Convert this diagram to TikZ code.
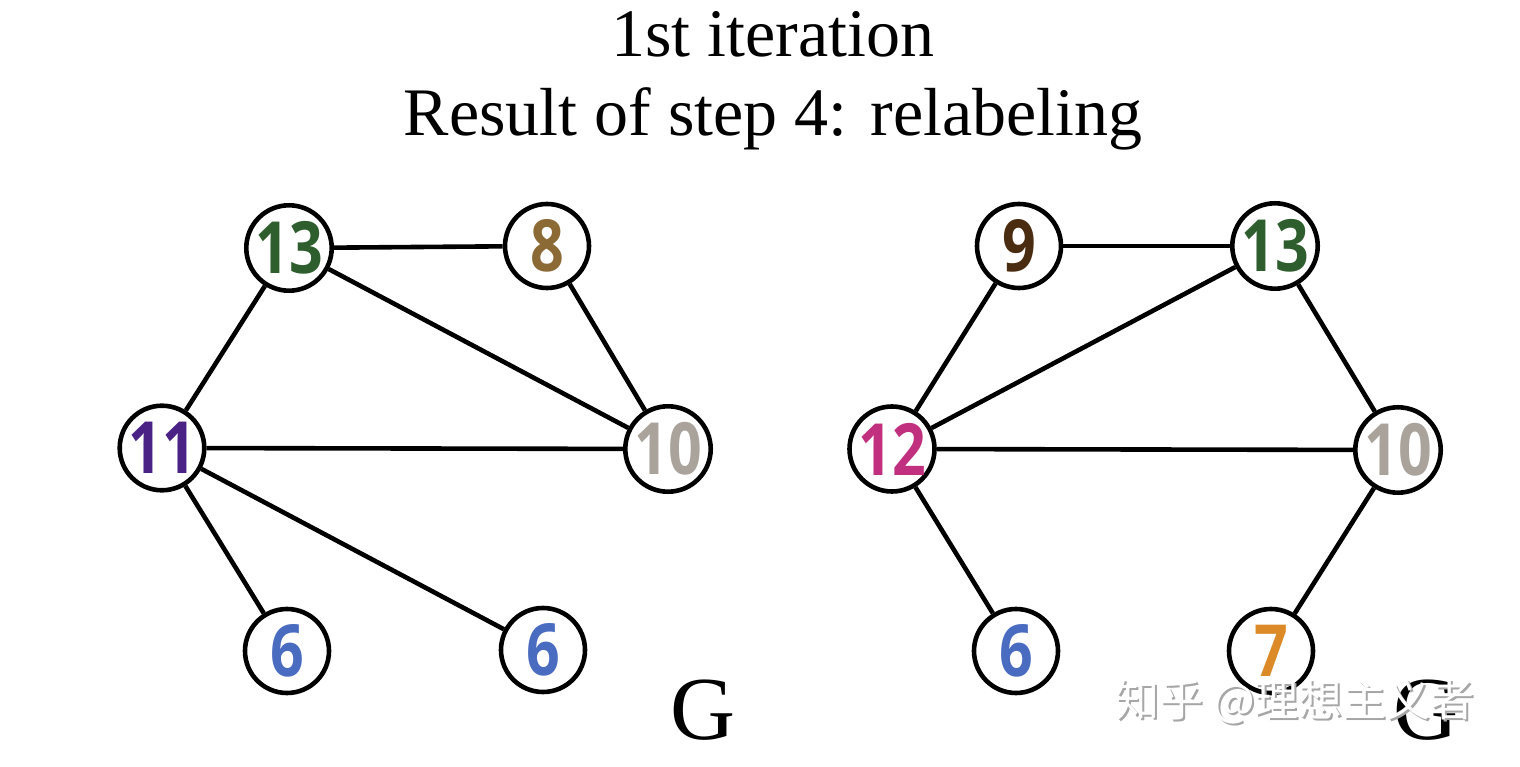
\documentclass[tikz,border=0pt]{standalone}
\usepackage{fontspec}
\setmainfont{Liberation Serif}
\newfontfamily\numfont[FakeStretch=0.82]{Open Sans}
\newfontfamily\cjkfont{Noto Sans CJK SC}
\definecolor{cgreen}{HTML}{2F5E2E}
\definecolor{cbrown}{HTML}{8C6A35}
\definecolor{cpurple}{HTML}{4A2184}
\definecolor{cgray}{HTML}{A9A39B}
\definecolor{cblue}{HTML}{4A6CC0}
\definecolor{cdbrown}{HTML}{4A2C10}
\definecolor{cmagenta}{HTML}{C0307F}
\definecolor{corange}{HTML}{DC8A28}
\begin{document}
\begin{tikzpicture}[x=1pt,y=1pt,
  vnode/.style={circle,draw=black,line width=4.6pt,fill=white,minimum size=84pt,inner sep=0pt,
    font=\numfont\bfseries\fontsize{72}{72}\selectfont},
  edge/.style={line width=4.6pt,black},
  title/.style={font=\fontsize{68}{68}\selectfont},
  glabel/.style={font=\fontsize{90}{90}\selectfont}]
\useasboundingbox (0,0) rectangle (1520,766);
\fill[white] (0,0) rectangle (1520,766);
% titles
\node[title] (t1) at (773,732) {1st iteration};
\node[title] (t2) at (773,647) {Result of step 4: relabeling};
% left graph
\node[vnode,text=cgreen]  (a13) at (289,518) {13};
\node[vnode,text=cbrown]  (a8)  at (547,520) {8};
\node[vnode,text=cpurple] (a11) at (162,318) {11};
\node[vnode,text=cgray]   (a10) at (668,317) {10};
\node[vnode,text=cblue]   (a6a) at (287,115) {6};
\node[vnode,text=cblue]   (a6b) at (543,116) {6};
% right graph
\node[vnode,text=cdbrown]  (b9)  at (1019,520) {9};
\node[vnode,text=cgreen]   (b13) at (1275,520) {13};
\node[vnode,text=cmagenta] (b12) at (892,317) {12};
\node[vnode,text=cgray]    (b10) at (1398,316) {10};
\node[vnode,text=cblue]    (b6)  at (1016,115) {6};
\node[vnode,text=corange]  (b7)  at (1271,115) {7};
% edges left
\draw[edge] (a13) -- (a8);
\draw[edge] (a13) -- (a10);
\draw[edge] (a13) -- (a11);
\draw[edge] (a11) -- (a10);
\draw[edge] (a11) -- (a6a);
\draw[edge] (a11) -- (a6b);
\draw[edge] (a8) -- (a10);
% edges right
\draw[edge] (b9) -- (b13);
\draw[edge] (b9) -- (b12);
\draw[edge] (b12) -- (b13);
\draw[edge] (b12) -- (b10);
\draw[edge] (b12) -- (b6);
\draw[edge] (b13) -- (b10);
\draw[edge] (b10) -- (b7);
% G labels
\node[glabel] (g1) at (703,56) {G};
\node[glabel] (g2) at (1426,56) {G};
% watermark
\node[font=\cjkfont\fontsize{44}{44}\selectfont,text=black!35] (wm0) at (1297,62) {知乎 @理想主义者};
\node[font=\cjkfont\fontsize{44}{44}\selectfont,text=white] (wm) at (1295,64) {知乎 @理想主义者};
\end{tikzpicture}
\end{document}
